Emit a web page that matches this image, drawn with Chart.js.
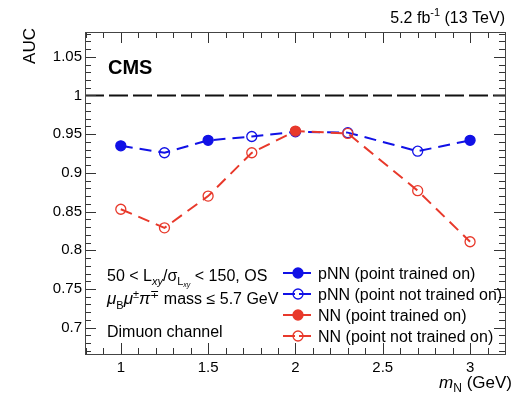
<!DOCTYPE html>
<html>
<head>
<meta charset="utf-8">
<script src="https://cdn.jsdelivr.net/npm/chart.js@4.4.1/dist/chart.umd.min.js"></script>
<style>
	html, body { margin: 0; padding: 0; background: #fff; }
	canvas { display: block; }
</style>
</head>
<body>
<canvas id="aucChart" width="520" height="401"></canvas>
<script>
const massPoints = [1, 1.25, 1.5, 1.75, 2, 2.3, 2.7, 3];
const pnnAuc = [0.935, 0.926, 0.942, 0.947, 0.953, 0.952, 0.928, 0.942];
const nnAuc = [0.853, 0.829, 0.870, 0.926, 0.954, 0.951, 0.877, 0.811];
const pnnTrainedOn = [true, false, true, false, true, false, false, true];
const nnTrainedOn = [false, false, false, false, true, false, false, false];

const xTicks = [1, 1.5, 2, 2.5, 3];
const yTicks = [0.7, 0.75, 0.8, 0.85, 0.9, 0.95, 1, 1.05];
const xRange = [0.795, 3.2];
const yRange = [0.666, 1.082];
const referenceAuc = 1;

const legendLabels = [
	'pNN (point trained on)',
	'pNN (point not trained on)',
	'NN (point trained on)',
	'NN (point not trained on)'
];

const BLUE = '#1111e6';
const RED = '#e8392b';
const FONT = '"Liberation Sans", Arial, Helvetica, sans-serif';

function fontOf(p) {
	return `${p.bold ? 'bold ' : ''}${p.it ? 'italic ' : ''}${p.s || 16}px ${FONT}`;
}

// draws a run of text pieces (sub/superscripts via dy)
function drawParts(ctx, parts, x, y, align) {
	let total = 0;
	parts.forEach((p) => {
		ctx.font = fontOf(p);
		p.w = ctx.measureText(p.t).width;
		total += p.w;
	});
	let cx = align === 'right' ? x - total : x;
	ctx.textAlign = 'left';
	ctx.textBaseline = 'alphabetic';
	parts.forEach((p) => {
		ctx.font = fontOf(p);
		ctx.fillText(p.t, cx, y + (p.dy || 0));
		cx += p.w;
	});
}

function drawMarker(ctx, x, y, r, color, filled) {
	ctx.beginPath();
	ctx.arc(x, y, r, 0, Math.PI * 2);
	if (filled) {
		ctx.fillStyle = color;
		ctx.fill();
	}
	ctx.lineWidth = 1.3;
	ctx.strokeStyle = color;
	ctx.stroke();
}

const framePlugin = {
	id: 'framePlugin',
	beforeDatasetsDraw(chart) {
		const { ctx, chartArea: a, scales } = chart;
		const yRef = scales.y.getPixelForValue(referenceAuc);
		ctx.save();
		ctx.strokeStyle = '#111';
		ctx.lineWidth = 2;
		ctx.setLineDash([19, 5]);
		ctx.beginPath();
		ctx.moveTo(a.left, yRef);
		ctx.lineTo(a.right, yRef);
		ctx.stroke();
		ctx.restore();
	},
	afterDraw(chart) {
		const { ctx, chartArea: a, scales } = chart;
		ctx.save();

		// inner ticks on all four sides
		ctx.strokeStyle = '#333';
		ctx.lineWidth = 1;
		ctx.beginPath();
		for (let i = 8; i <= 32; i++) {
			const v = i / 10;
			const px = Math.round(scales.x.getPixelForValue(v)) + 0.5;
			const len = i % 5 === 0 ? 11 : 6;
			ctx.moveTo(px, a.bottom);
			ctx.lineTo(px, a.bottom - len);
			ctx.moveTo(px, a.top);
			ctx.lineTo(px, a.top + len);
		}
		for (let i = 67; i <= 108; i++) {
			const v = i / 100;
			const py = Math.round(scales.y.getPixelForValue(v)) + 0.5;
			const len = i % 5 === 0 ? 11 : 6;
			ctx.moveTo(a.left, py);
			ctx.lineTo(a.left + len, py);
			ctx.moveTo(a.right, py);
			ctx.lineTo(a.right - len, py);
		}
		ctx.stroke();

		ctx.strokeStyle = '#444';
		ctx.strokeRect(Math.round(a.left) + 0.5, Math.round(a.top) + 0.5,
			Math.round(a.right - a.left), Math.round(a.bottom - a.top));

		ctx.fillStyle = '#000';

		// header texts
		drawParts(ctx, [{ t: 'CMS', s: 20, bold: true }], 108, 74, 'left');
		drawParts(ctx, [
			{ t: '5.2 fb', s: 16 },
			{ t: '-1', s: 11, dy: -7 },
			{ t: ' (13 TeV)', s: 16 }
		], 505, 23, 'right');

		// axis titles
		ctx.save();
		ctx.translate(35, 28);
		ctx.rotate(-Math.PI / 2);
		ctx.font = `17px ${FONT}`;
		ctx.textAlign = 'right';
		ctx.fillText('AUC', 0, 0);
		ctx.restore();
		drawParts(ctx, [
			{ t: 'm', s: 17, it: true },
			{ t: 'N', s: 12, dy: 4 },
			{ t: ' (GeV)', s: 17 }
		], 512, 388, 'right');

		// selection text
		drawParts(ctx, [
			{ t: '50 < L', s: 16 },
			{ t: 'xy', s: 11, it: true, dy: 4 },
			{ t: '/\u03c3', s: 16 },
			{ t: 'L', s: 11, dy: 4 },
			{ t: 'xy', s: 7, it: true, dy: 6 },
			{ t: ' < 150, OS', s: 16 }
		], 107, 281, 'left');
		drawParts(ctx, [
			{ t: '\u03bc', s: 17, it: true },
			{ t: 'B', s: 11, dy: 5 },
			{ t: '\u03bc', s: 17, it: true },
			{ t: '\u00b1', s: 11, dy: -6 },
			{ t: '\u03c0', s: 17, it: true },
			{ t: '\u2213', s: 11, dy: -6 },
			{ t: ' mass \u2264 5.7 GeV', s: 16 }
		], 107, 304, 'left');
		drawParts(ctx, [{ t: 'Dimuon channel', s: 16 }], 107, 337, 'left');

		// legend
		const entries = [
			{ color: BLUE, filled: true },
			{ color: BLUE, filled: false },
			{ color: RED, filled: true },
			{ color: RED, filled: false }
		];
		entries.forEach((e, i) => {
			const cy = 273 + i * 21;
			ctx.strokeStyle = e.color;
			ctx.lineWidth = 2;
			ctx.setLineDash([12, 4]);
			ctx.beginPath();
			ctx.moveTo(283, cy);
			ctx.lineTo(313, cy);
			ctx.stroke();
			ctx.setLineDash([]);
			drawMarker(ctx, 298, cy, 5, e.color, e.filled);
			ctx.fillStyle = '#000';
			drawParts(ctx, [{ t: legendLabels[i], s: 16 }], 318, cy + 6, 'left');
		});

		ctx.restore();
	}
};

const ctx = document.getElementById('aucChart');
const chart = new Chart(ctx, {
	type: 'line',
	data: {
		datasets: [
			{
				label: 'pNN',
				data: massPoints.map((m, i) => ({ x: m, y: pnnAuc[i] })),
				borderColor: BLUE,
				borderWidth: 2,
				borderDash: [12, 7],
				pointRadius: 5,
				pointBorderWidth: 1.3,
				pointBorderColor: BLUE,
				pointBackgroundColor: pnnTrainedOn.map((f) => (f ? BLUE : 'rgba(0,0,0,0)')),
				tension: 0,
				order: 2
			},
			{
				label: 'NN',
				data: massPoints.map((m, i) => ({ x: m, y: nnAuc[i] })),
				borderColor: RED,
				borderWidth: 2,
				borderDash: [12, 7],
				pointRadius: 5,
				pointBorderWidth: 1.3,
				pointBorderColor: RED,
				pointBackgroundColor: nnTrainedOn.map((f) => (f ? RED : 'rgba(0,0,0,0)')),
				tension: 0,
				order: 1
			}
		]
	},
	options: {
		responsive: false,
		animation: false,
		devicePixelRatio: 1,
		layout: { padding: { top: 32, right: 15, left: 0, bottom: 0 } },
		plugins: {
			legend: { display: false },
			tooltip: { enabled: false }
		},
		scales: {
			x: {
				type: 'linear',
				min: xRange[0],
				max: xRange[1],
				afterBuildTicks: (s) => { s.ticks = xTicks.map((v) => ({ value: v })); },
				afterFit: (s) => { s.height = 47; },
				grid: { display: false, drawTicks: false },
				border: { display: false },
				ticks: {
					padding: 5,
					color: '#000',
					font: { size: 15, family: FONT },
					maxRotation: 0,
					autoSkip: false,
					callback: (v) => String(v)
				}
			},
			y: {
				type: 'linear',
				min: yRange[0],
				max: yRange[1],
				afterBuildTicks: (s) => { s.ticks = yTicks.map((v) => ({ value: v })); },
				afterFit: (s) => { s.width = 85; },
				grid: { display: false, drawTicks: false },
				border: { display: false },
				ticks: {
					padding: 3,
					color: '#000',
					font: { size: 15, family: FONT },
					autoSkip: false,
					callback: (v) => String(v)
				}
			}
		}
	},
	plugins: [framePlugin]
});
</script>
</body>
</html>
